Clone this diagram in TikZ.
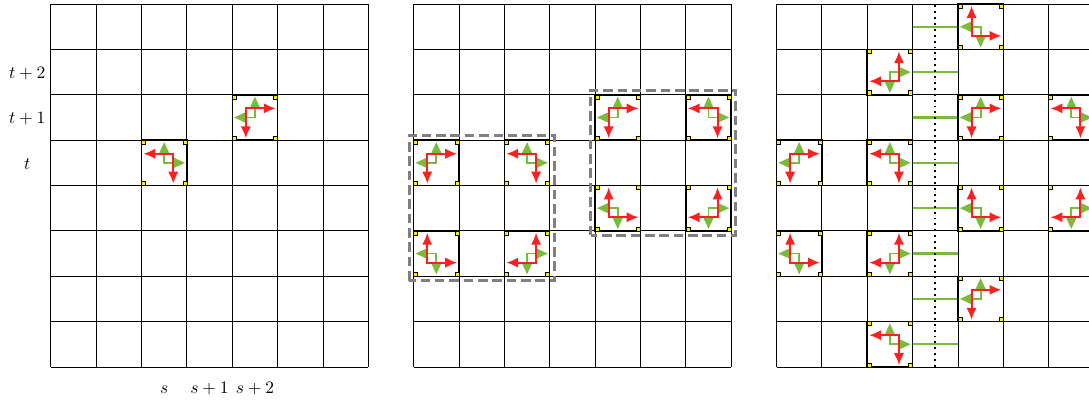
\documentclass[tikz,border=0pt]{standalone}
\usepackage{tikz}
\usetikzlibrary{arrows.meta, positioning}
\definecolor{arrgreen}{RGB}{122,186,60}
\definecolor{arrred}{RGB}{252,32,32}
\definecolor{boxgray}{RGB}{128,128,128}
\tikzset{
  gridline/.style={line width=0.5pt,color=black},
  cellbox/.style={line width=0.9pt,draw=black},
  cornermark/.style={fill=yellow,draw=black,line width=0.3pt},
  redarr/.style={{Latex[length=7.5pt,width=6.5pt]}-{Latex[length=7.5pt,width=6.5pt]},line width=1.3pt,color=arrred},
  greenarr/.style={{Triangle[length=7.5pt,width=6.5pt]}-{Triangle[length=7.5pt,width=6.5pt]},line width=1.2pt,color=arrgreen},
  greenlink/.style={line width=1.4pt,color=arrgreen},
  groupbox/.style={draw=boxgray,line width=2pt,dash pattern=on 6pt off 3pt},
  dotline/.style={line width=1.2pt,dash pattern=on 1.2pt off 2.5pt},
  lbl/.style={font=\fontsize{11.4}{13}\selectfont,anchor=base}
}
% one marked cell: lower-left x, y, horizontal / vertical sense of the green pair
\newcommand{\markcell}[4]{%
  \begin{scope}[shift={(#1+0.5,#2+0.5)}]
    \draw[cellbox] (-0.5,-0.5) rectangle (0.5,0.5);
    \foreach \cx/\cy in {-1/-1,-1/1,1/-1,1/1}
      \draw[cornermark] (0.5*\cx,0.5*\cy) rectangle ++(-0.09*\cx,-0.09*\cy);
    \draw[greenarr] (0,{0.46*(#4)}) -- (0,0) -- ({0.46*(#3)},0);
    \draw[redarr] ({-0.46*(#3)},{0.2*(#4)}) -- ({0.2*(#3)},{0.2*(#4)}) -- ({0.2*(#3)},{-0.46*(#4)});
  \end{scope}}

\begin{document}
\begin{tikzpicture}
  \useasboundingbox (-1.12,-0.795) rectangle (22.89,8.09);
  \clip (-1.12,-0.795) rectangle (22.89,8.09);

  %% three grids
  \foreach \gx in {0,8,16}
    \draw[gridline] (\gx,0) grid (\gx+7,8);

  %% links and cut line in the third grid
  \foreach \y in {0,...,7}
    \draw[greenlink] (19,\y+0.5) -- (20,\y+0.5);
  \draw[dotline] (19.5,0) -- (19.5,8);

  %% marked cells
  \foreach \x/\y/\h/\v in {2/4/1/1, 4/5/-1/1,
      8/4/-1/1, 10/4/1/1, 8/2/-1/-1, 10/2/1/-1,
      12/5/-1/1, 14/5/1/1, 12/3/-1/-1, 14/3/1/-1,
      20/7/-1/-1, 18/6/1/-1, 20/5/-1/1, 22/5/1/1,
      16/4/-1/1, 18/4/1/1, 20/3/-1/-1, 22/3/1/-1,
      16/2/-1/-1, 18/2/1/-1, 20/1/-1/1, 18/0/1/1}
    \markcell{\x}{\y}{\h}{\v};

  %% groups in the middle grid
  \draw[groupbox] (7.9,1.9) rectangle (11.1,5.1);
  \draw[groupbox] (11.9,2.9) rectangle (15.1,6.1);

  %% labels
  \node[lbl] (trow0) at (-0.52,4.36) {$t$};
  \node[lbl] (trow1) at (-0.52,5.37) {$t+1$};
  \node[lbl] (trow2) at (-0.52,6.37) {$t+2$};
  \node[lbl] (scol0) at (2.5,-0.58) {$s$};
  \node[lbl] (scol1) at (3.5,-0.58) {$s+1$};
  \node[lbl] (scol2) at (4.5,-0.58) {$s+2$};
\end{tikzpicture}
\end{document}
